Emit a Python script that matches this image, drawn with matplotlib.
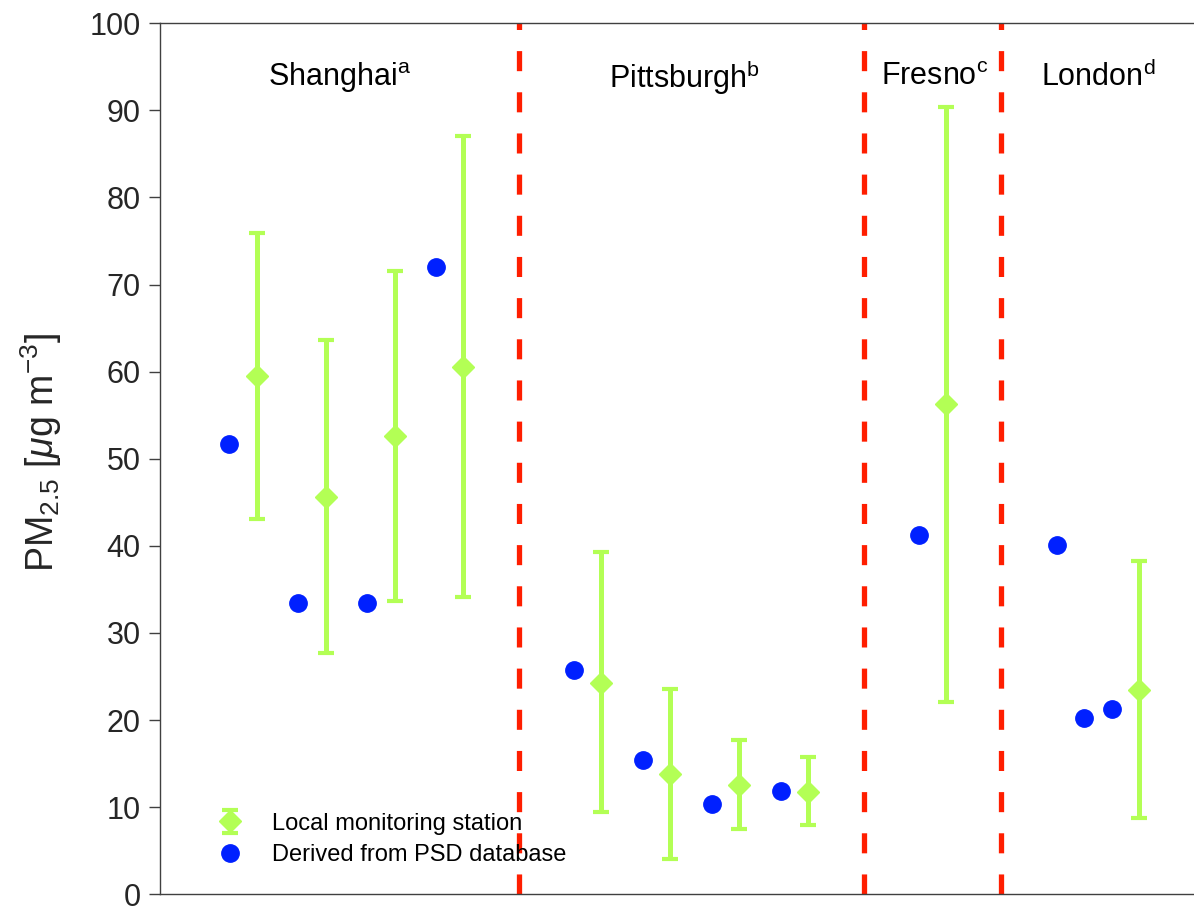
import matplotlib.pyplot as plt

# ---------- DATA ----------

sites = ["Shanghai", "Pittsburgh", "Fresno", "London"]
site_refs = ["a", "b", "c", "d"]

# PM2.5 derived from the PSD database
psd_values = [51.7, 33.4, 33.4, 72.0,      # Shanghai
              25.8, 15.4, 10.4, 11.9,      # Pittsburgh
              41.2,                        # Fresno
              40.1, 20.2, 21.3]            # London

# PM2.5 from local monitoring stations (mean, lower, upper)
station_mean = [59.5, 45.6, 52.6, 60.5,
                24.3, 13.8, 12.6, 11.8,
                56.3,
                23.4]
station_low = [43.1, 27.7, 33.7, 34.1,
               9.4, 4.0, 7.5, 7.9,
               22.1,
               8.8]
station_high = [75.9, 63.6, 71.6, 87.0,
                39.3, 23.6, 17.7, 15.8,
                90.4,
                38.3]

# ---------- LAYOUT ----------

psd_x = [2, 4, 6, 8, 12, 14, 16, 18, 22, 26, 26.8, 27.6]
station_x = [2.8, 4.8, 6.8, 8.8, 12.8, 14.8, 16.8, 18.8, 22.8, 28.4]
separators = [10.4, 20.4, 24.4]
site_x = [5.2, 15.2, 22.45, 27.2]

GREEN = "#b3ff55"
BLUE = "#0020ff"
RED = "#ff1e00"

plt.rcParams["font.family"] = ["Liberation Sans", "DejaVu Sans"]
plt.rcParams["mathtext.fontset"] = "custom"
plt.rcParams["mathtext.rm"] = "Liberation Sans"
plt.rcParams["mathtext.it"] = "Liberation Sans:italic"

fig = plt.figure(figsize=(11.94, 9.08), dpi=100)
ax = fig.add_axes([0.134, 0.0151, 0.8665, 0.9593])

for xs in separators:
    ax.axvline(xs, color=RED, lw=3.8, dashes=(3.8, 4.0), zorder=1)

lower_err = [m - lo for m, lo in zip(station_mean, station_low)]
upper_err = [hi - m for m, hi in zip(station_mean, station_high)]
station = ax.errorbar(station_x, station_mean, yerr=[lower_err, upper_err],
                      fmt="D", color=GREEN, ms=11.5, elinewidth=3.6,
                      capsize=6.0, capthick=3.0, zorder=3)
psd, = ax.plot(psd_x, psd_values, "o", color=BLUE, ms=12.5, zorder=4)

for name, ref, xs in zip(sites, site_refs, site_x):
    ax.text(xs, 93.8, name + r"$^{\mathrm{" + ref + "}}$",
            ha="center", va="center", fontsize=22, color="black")

ax.set_xlim(0, 30)
ax.set_ylim(0, 100)
ax.set_yticks(range(0, 101, 10))
ax.set_xticks([])
ax.tick_params(axis="y", direction="out", length=8, width=1,
               labelsize=22, colors="#404040", labelcolor="#262626", pad=6)
for side in ["left", "top", "bottom"]:
    ax.spines[side].set_color("#404040")
    ax.spines[side].set_linewidth(1.0)
ax.spines["right"].set_visible(False)

ax.set_ylabel(r"PM$_{2.5}$ [$\mu$g m$^{-3}$]", fontsize=27, color="#262626")
ax.yaxis.set_label_coords(-0.093, 0.507)

ax.legend([station, psd], ["Local monitoring station", "Derived from PSD database"],
          loc="lower left", bbox_to_anchor=(0.024, 0.008), frameon=False,
          fontsize=17, handletextpad=0.8, labelspacing=0.4)

fig.savefig("out.png", dpi=100)
